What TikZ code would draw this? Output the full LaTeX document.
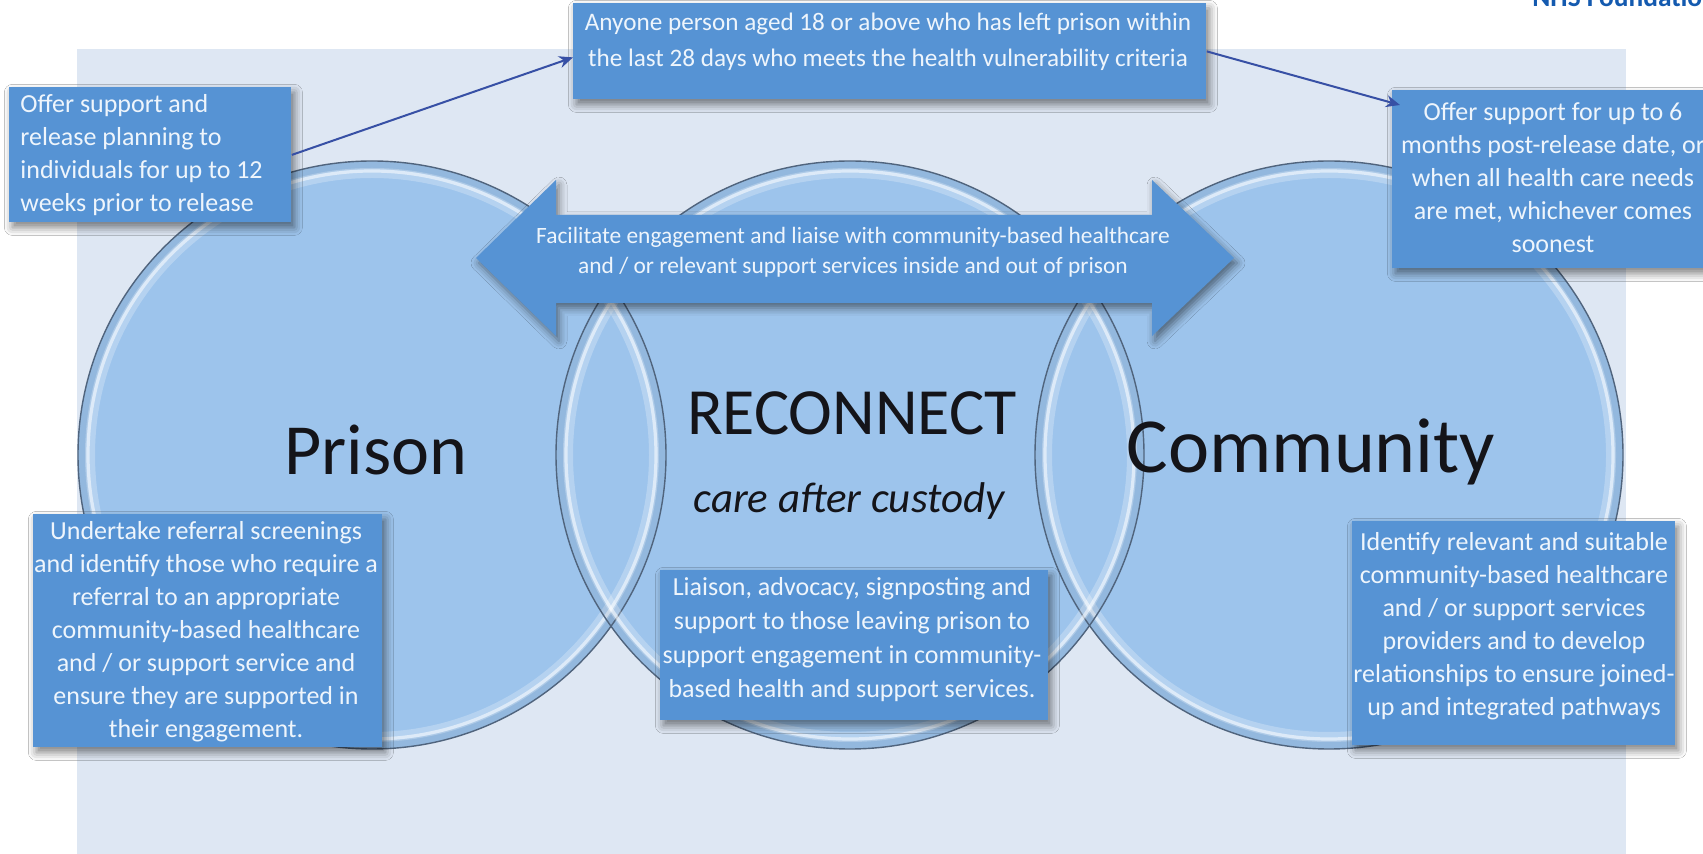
\documentclass[tikz,border=0pt]{standalone}
\usepackage{fontspec}
\setmainfont{Carlito}
\usetikzlibrary{arrows.meta,shadows.blur}
\definecolor{panel}{RGB}{222,231,243}
\definecolor{boxblue}{RGB}{86,147,212}
\definecolor{circfill}{RGB}{157,196,236}
\definecolor{circline}{RGB}{80,100,125}
\definecolor{boxtext}{RGB}{238,245,252}
\definecolor{connblue}{RGB}{55,80,165}
\definecolor{nhsblue}{RGB}{20,90,175}
\definecolor{bigtext}{RGB}{20,20,25}
\begin{document}
\begin{tikzpicture}[x=0.5pt,y=-0.5pt,
  softshadow/.style={blur shadow={shadow xshift=1.5pt, shadow yshift=-2.5pt, shadow blur radius=4pt, shadow opacity=50}},
  bluebox/.style={fill=boxblue, draw=none, rectangle, inner sep=0pt, anchor=north west, softshadow},
  boxtxt/.style={text=boxtext, font=\fontsize{13}{16.5}\selectfont, align=center, inner sep=0pt},
  bigtxt/.style={text=bigtext, inner sep=0pt, anchor=base},
  conn/.style={draw=connblue, line width=1pt, -{Stealth[length=7pt,width=6pt]}},
  circbase/.style={fill=circfill},
  circrimA/.style={draw=circline, opacity=0.12, line width=4pt},
  circrimB/.style={draw=white, opacity=0.25, line width=5pt},
  circrimC/.style={draw=white, opacity=0.55, line width=1.6pt},
  circedge/.style={draw=circline, line width=0.7pt},
]
\useasboundingbox (0,0) rectangle (1703,854);
\fill[white] (0,0) rectangle (1703,854);
% panel
\fill[panel] (77,49) rectangle (1626,854);
% circles
\foreach \cx in {372,1329,850}{
  \fill[circbase] (\cx,455) circle[radius=147pt];
}
\foreach \cx in {372,1329,850}{
  \draw[circrimA] (\cx,455) circle[radius=145pt];
  \draw[circrimB] (\cx,455) circle[radius=141pt];
  \draw[circrimC] (\cx,455) circle[radius=142pt];
  \draw[circedge] (\cx,455) circle[radius=147pt];
}
% big labels
\node[bigtxt, font=\fontsize{36}{40}\selectfont] (prison) at (376,475) {Prison};
\node[bigtxt, font=\fontsize{33}{38}\selectfont] (reconnect) at (852,435) {RECONNECT};
\node[bigtxt, font=\fontsize{21.5}{25}\selectfont\itshape] (care) at (849,513) {care after custody};
\node[bigtxt, font=\fontsize{39}{44}\selectfont] (community) at (1311,473) {Community};
% double arrow
\fill[boxblue, softshadow] (476,258) -- (556,180) -- (556,215) -- (1152,215) -- (1152,180) -- (1234,258) -- (1152,336) -- (1152,303) -- (556,303) -- (556,336) -- cycle;
\node[boxtxt, font=\fontsize{11.7}{14.8}\selectfont] (arrowtxt) at (853,252) {Facilitate engagement and liaise with community-based healthcare\\and / or relevant support services inside and out of prison};
% boxes
\node[bluebox, minimum width=141pt, minimum height=67.5pt] (lt) at (9,87) {};
\node[bluebox, minimum width=316.5pt, minimum height=48pt] (top) at (573,3) {};
\node[bluebox, minimum width=160pt, minimum height=89pt] (rt) at (1392,90) {};
\node[bluebox, minimum width=174.5pt, minimum height=116.5pt] (bl) at (33,514) {};
\node[bluebox, minimum width=194pt, minimum height=75pt] (bm) at (660,570) {};
\node[bluebox, minimum width=161.5pt, minimum height=112pt] (br) at (1352,521) {};
% connectors
\draw[conn] (lt.east) -- ([yshift=-3pt]top.west);
\draw[conn] (top.east) -- ([xshift=4pt,yshift=-7.5pt]rt.north west);
% box texts
\node[boxtxt, align=left, anchor=west] (ltt) at (20,155) {Offer support and\\release planning to\\individuals for up to 12\\weeks prior to release};
\node[boxtxt, font=\fontsize{12.6}{18}\selectfont] (topt) at (888,42) {Anyone person aged 18 or above who has left prison within\\the last 28 days who meets the health vulnerability criteria};
\node[boxtxt] (rtt) at (1553,178) {Offer support for up to 6\\months post-release date, or\\when all health care needs\\are met, whichever comes\\soonest};
\node[boxtxt] (blt) at (206,632) {Undertake referral screenings\\and identify those who require a\\referral to an appropriate\\community-based healthcare\\and / or support service and\\ensure they are supported in\\their engagement.};
\node[boxtxt, font=\fontsize{13}{17}\selectfont] (bmt) at (852,640) {Liaison, advocacy, signposting and\\support to those leaving prison to\\support engagement in community-\\based health and support services.};
\node[boxtxt] (brt) at (1514,626) {Identify relevant and suitable\\community-based healthcare\\and / or support services\\providers and to develop\\relationships to ensure joined-\\up and integrated pathways};
% header fragment
\node[font=\fontsize{13.7}{16}\selectfont\bfseries, text=nhsblue, anchor=base west, inner sep=0pt] (nhs) at (1532,7) {NHS Foundatio};
\end{tikzpicture}
\end{document}
